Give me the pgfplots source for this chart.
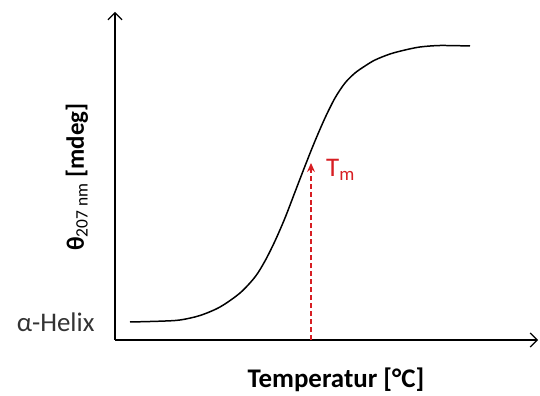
\documentclass[border=0pt]{standalone}
\usepackage{pgfplots}
\pgfplotsset{compat=1.18}
\usetikzlibrary{arrows.meta}
\usepackage{fontspec}
\setmainfont{Carlito}
\definecolor{tmred}{RGB}{215,30,35}
\begin{document}
\begin{tikzpicture}
\begin{axis}[
  at={(0,0)}, anchor=south west,
  scale only axis, width=423bp, height=328bp,
  xmin=115, xmax=538, ymin=0, ymax=328,
  axis lines=left, axis line style={line width=1.6pt, -{Straight Barb[length=7bp,width=14bp,line width=1.2pt]}},
  xtick=\empty, ytick=\empty, clip=false,
]
\addplot[black, line width=1.5pt, smooth, tension=0.5] coordinates {
(130,18) (160,18.8) (180,20) (200,24.5) (220,33) (240,47) (255,63) (265,79) (275,99)
(285,122) (295,148) (305,174) (315,199) (325,222) (335,242) (345,257) (355,267)
(365,274) (375,280) (390,286) (405,290) (420,293) (440,294.5) (470,294)
};
\addplot[tmred, line width=1.2pt, dashed, dash pattern=on 5pt off 3pt, -{Stealth[length=9bp,width=8bp]}] coordinates {(311,0) (311,177)};
\node[anchor=base west, text=tmred, font=\fontsize{27}{29}\selectfont, inner sep=0pt] at (axis cs:326,163) {T\textsubscript{m}};
\node[font=\fontsize{27}{29}\selectfont\bfseries] at (axis cs:336,-40) {Temperatur [°C]};
\node[rotate=90, font=\fontsize{25}{27}\selectfont\bfseries] at (axis cs:77,163) {θ\textsubscript{\normalfont 207 nm} [mdeg]};
\node[anchor=east, text=black!80, font=\fontsize{27}{29}\selectfont] at (axis cs:98,18) {α-Helix};
\end{axis}
\path[use as bounding box] (-115bp,-51bp) rectangle (425bp,340bp);
\end{tikzpicture}
\end{document}
